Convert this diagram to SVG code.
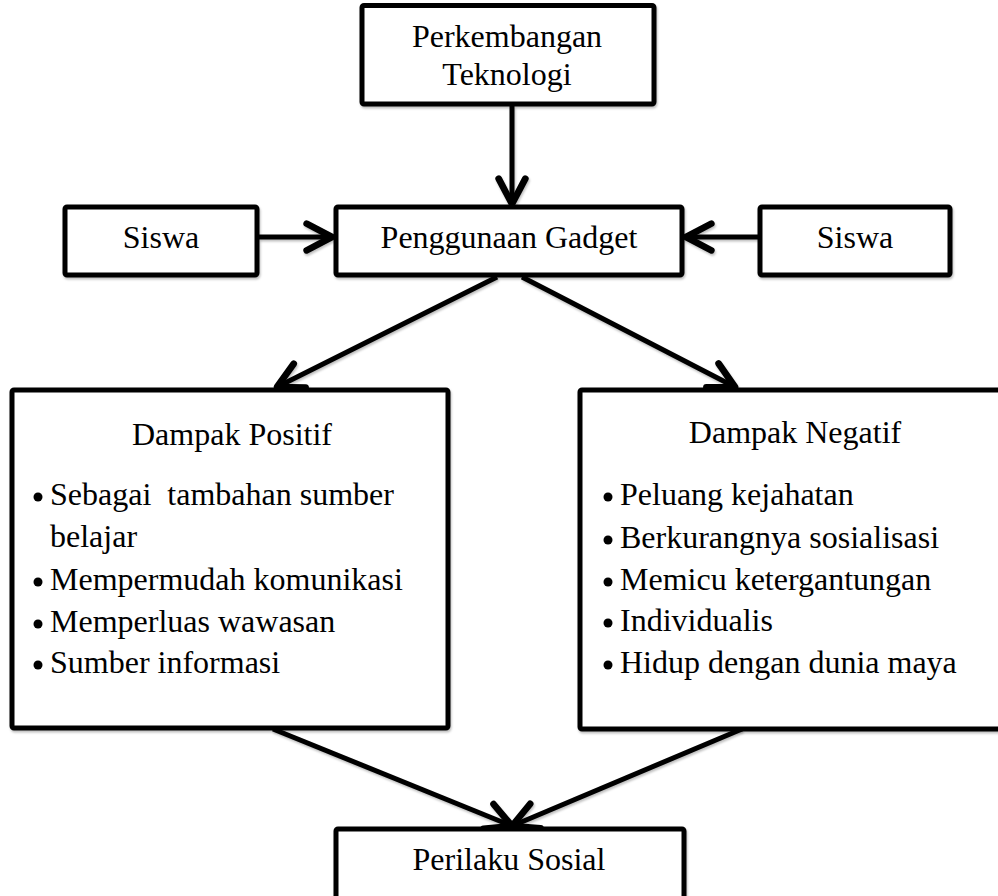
<svg xmlns="http://www.w3.org/2000/svg" width="998" height="896" viewBox="0 0 998 896">
<style>
.box{fill:#fff;stroke:#000;stroke-width:5;filter:url(#sh)}
.t{font-family:"Liberation Serif","Times New Roman",serif;font-size:32px;fill:#000}
.c{text-anchor:middle}
.ln{stroke:#000;stroke-width:5;fill:none;marker-end:url(#ah);filter:url(#sh)}
</style>
<defs>
<filter id="sh" filterUnits="userSpaceOnUse" x="0" y="0" width="998" height="896">
<feDropShadow dx="1" dy="2" stdDeviation="1.2" flood-color="#000" flood-opacity="0.25"/>
</filter>
<marker id="ah" markerUnits="userSpaceOnUse" markerWidth="40" markerHeight="40" viewBox="-25 -15 30 30" refX="0" refY="0" orient="auto">
<path d="M -19 -10 L 0 0 L -19 10" fill="none" stroke="#000" stroke-width="5" stroke-linejoin="round" stroke-linecap="round"/>
</marker>
</defs>
<rect width="998" height="896" fill="#fff"/>
<g id="connectors">
<line class="ln" x1="512" y1="106" x2="512" y2="204"/>
<line class="ln" x1="259" y1="237" x2="332" y2="237"/>
<line class="ln" x1="758" y1="237" x2="686" y2="237"/>
<line class="ln" x1="497" y1="277" x2="277" y2="387"/>
<line class="ln" x1="522" y1="277" x2="735" y2="387"/>
<line class="ln" x1="273" y1="729" x2="512" y2="826"/>
<line class="ln" x1="742" y1="729" x2="512" y2="826"/>
</g>
<g id="perkembangan">
<rect class="box" x="362" y="5.5" width="292" height="98.5" rx="2"/>
<text class="t c" x="507" y="47">Perkembangan</text>
<text class="t c" x="507" y="85">Teknologi</text>
</g>
<g id="penggunaan">
<rect class="box" x="336" y="207" width="346" height="68" rx="2"/>
<text class="t c" x="509" y="248">Penggunaan Gadget</text>
</g>
<g id="siswa-kiri">
<rect class="box" x="65" y="207" width="192" height="68" rx="2"/>
<text class="t c" x="161" y="248">Siswa</text>
</g>
<g id="siswa-kanan">
<rect class="box" x="760" y="207" width="190" height="68" rx="2"/>
<text class="t c" x="855" y="248">Siswa</text>
</g>
<g id="positif">
<rect class="box" x="12" y="390" width="436" height="338" rx="2"/>
<text class="t c" x="232" y="445">Dampak Positif</text>
<circle cx="38" cy="497" r="4.5"/>
<text class="t" x="50" y="505" xml:space="preserve">Sebagai  tambahan sumber</text>
<text class="t" x="50" y="547">belajar</text>
<circle cx="38" cy="582" r="4.5"/>
<text class="t" x="50" y="590">Mempermudah komunikasi</text>
<circle cx="38" cy="624" r="4.5"/>
<text class="t" x="50" y="632">Memperluas wawasan</text>
<circle cx="38" cy="665" r="4.5"/>
<text class="t" x="50" y="673">Sumber informasi</text>
</g>
<g id="negatif">
<rect class="box" x="580" y="390" width="430" height="339" rx="2"/>
<text class="t c" x="795" y="443">Dampak Negatif</text>
<circle cx="608" cy="497" r="4.5"/>
<text class="t" x="620" y="505">Peluang kejahatan</text>
<circle cx="608" cy="540" r="4.5"/>
<text class="t" x="620" y="548">Berkurangnya sosialisasi</text>
<circle cx="608" cy="582" r="4.5"/>
<text class="t" x="620" y="590">Memicu ketergantungan</text>
<circle cx="608" cy="623" r="4.5"/>
<text class="t" x="620" y="631">Individualis</text>
<circle cx="608" cy="665" r="4.5"/>
<text class="t" x="620" y="673">Hidup dengan dunia maya</text>
</g>
<g id="perilaku">
<rect class="box" x="336" y="829" width="348" height="100" rx="2"/>
<text class="t c" x="509" y="870">Perilaku Sosial</text>
</g>
</svg>
